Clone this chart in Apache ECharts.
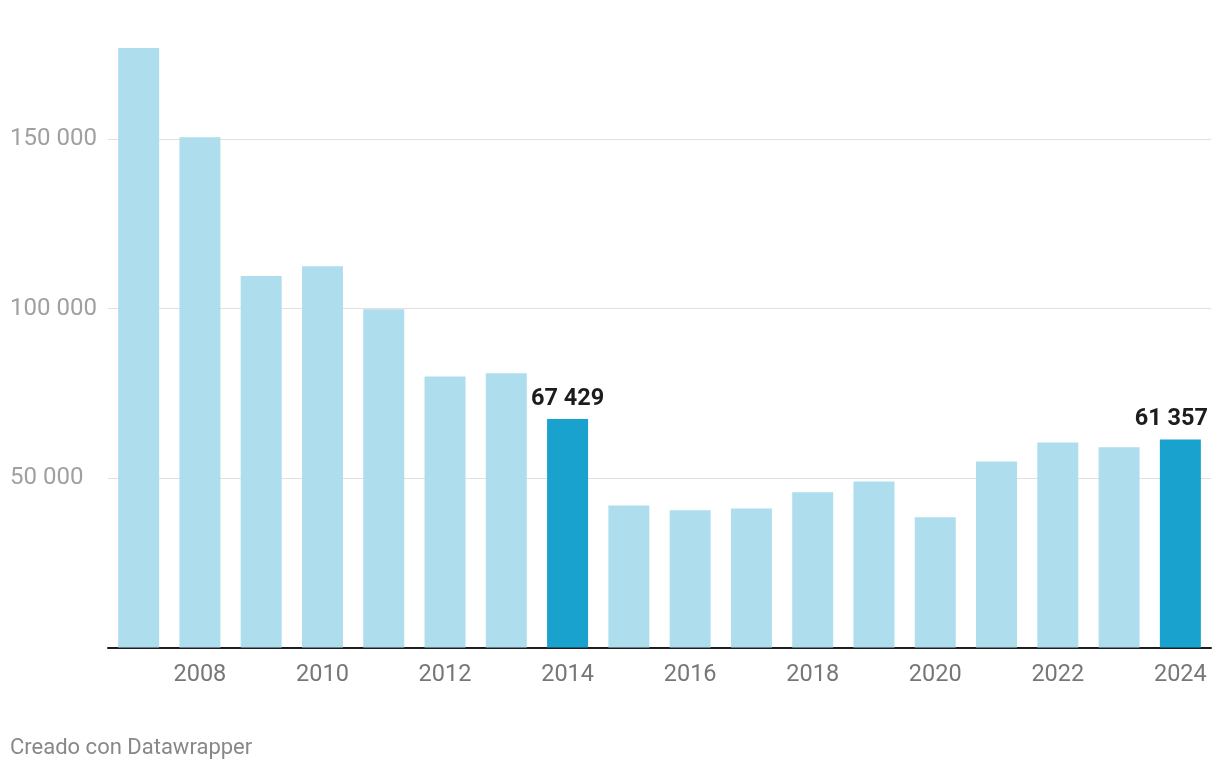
<!DOCTYPE html>
<html>
<head>
<meta charset="utf-8">
<script src="https://cdn.jsdelivr.net/npm/echarts@6/dist/echarts.min.js"></script>
<style>
html,body{margin:0;padding:0;background:#fff;}
#chart{width:1220px;height:770px;}
</style>
</head>
<body>
<div id="chart"></div>
<script>
var years = ['2007','2008','2009','2010','2011','2012','2013','2014','2015','2016','2017','2018','2019','2020','2021','2022','2023','2024'];
var values = [176900, 150600, 109600, 112500, 99800, 80000, 80900, 67429, 41900, 40500, 41000, 45800, 49000, 38400, 54900, 60500, 59100, 61357];
var highlightYears = ['2014', '2024'];
var yTicks = [0, 50000, 100000, 150000];

function fmt(v) {
  return String(Math.round(v)).replace(/\B(?=(\d{3})+(?!\d))/g, ' ');
}

var LIGHT = '#aedeed';
var DARK = '#19a2cd';

var seriesData = years.map(function (y, i) {
  var hl = highlightYears.indexOf(y) >= 0;
  var item = { value: values[i], itemStyle: { color: hl ? DARK : LIGHT } };
  if (hl) {
    item.label = {
      show: true,
      position: 'top',
      distance: 8,
      formatter: function (p) { return fmt(p.value); },
      fontFamily: 'Roboto',
      fontWeight: 'bold',
      fontSize: 23.5,
      color: '#1d1d1d',
      offset: y === '2024' ? [-9, 0] : [0, 0]
    };
  }
  return item;
});

var chart = echarts.init(document.getElementById('chart'));
chart.setOption({
  animation: false,
  backgroundColor: '#ffffff',
  grid: { left: 108, right: 9, top: 37.5, bottom: 122.5, containLabel: false },
  xAxis: {
    type: 'category',
    data: years,
    boundaryGap: true,
    axisLine: { show: true, lineStyle: { color: '#1d1d1d', width: 2 } },
    axisTick: { show: false },
    axisLabel: {
      interval: function (i) { return i % 2 === 1; },
      fontFamily: 'Roboto',
      fontSize: 23.5,
      color: '#777777',
      margin: 16
    }
  },
  yAxis: {
    type: 'value',
    min: 0,
    max: 180000,
    interval: 50000,
    axisLine: { show: false },
    axisTick: { show: false },
    splitLine: { show: true, showMaxLine: false, lineStyle: { color: '#e0e0e0', width: 1 } },
    axisLabel: {
      showMaxLabel: false,
      align: 'left',
      margin: 98,
      padding: [3, 0, 0, 0],
      fontFamily: 'Roboto',
      fontSize: 24,
      color: '#a0a0a0',
      formatter: function (v) { return (v === 0 || yTicks.indexOf(v) < 0) ? '' : fmt(v); }
    }
  },
  series: [{
    type: 'bar',
    data: seriesData,
    barWidth: 41,
    label: { show: false }
  }],
  graphic: [{
    type: 'text',
    left: 10,
    top: 737,
    style: {
      text: 'Creado con Datawrapper',
      fontFamily: 'Roboto',
      fontSize: 22,
      fill: '#888888'
    }
  }]
});
</script>
</body>
</html>
